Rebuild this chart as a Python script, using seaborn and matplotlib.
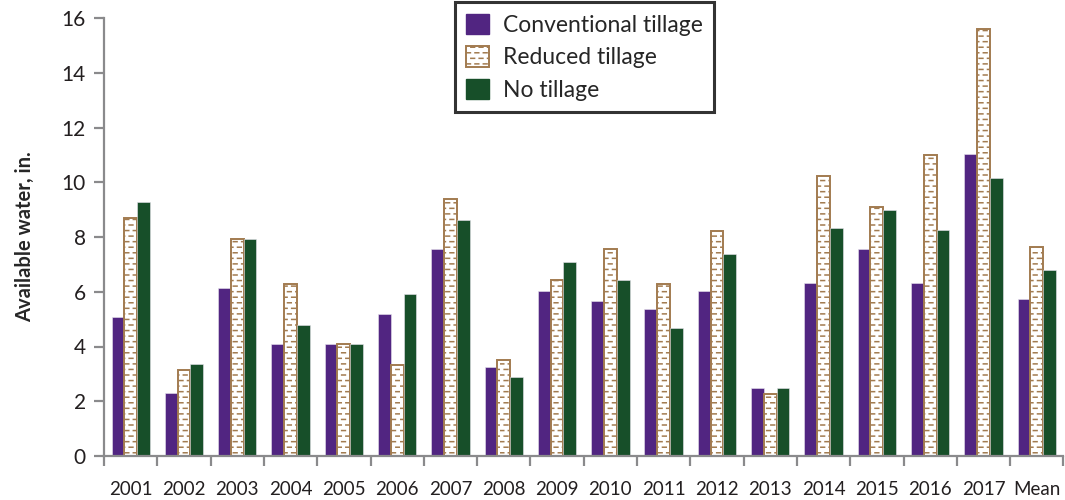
import numpy as np
import pandas as pd
import seaborn as sns
import matplotlib.pyplot as plt
import matplotlib.hatch as mhatch
from matplotlib.patches import Patch
from matplotlib.path import Path

# Data (inches of available water)
YEARS = ["2001", "2002", "2003", "2004", "2005", "2006", "2007", "2008", "2009",
         "2010", "2011", "2012", "2013", "2014", "2015", "2016", "2017", "Mean"]
CONVENTIONAL = [5.08, 2.29, 6.12, 4.10, 4.08, 5.17, 7.56, 3.25, 6.03,
                5.65, 5.37, 6.03, 2.48, 6.31, 7.57, 6.32, 11.02, 5.74]
REDUCED = [8.70, 3.14, 7.94, 6.30, 4.08, 3.34, 9.37, 3.52, 6.42,
           7.55, 6.30, 8.22, 2.27, 10.22, 9.10, 11.00, 15.60, 7.65]
NO_TILL = [9.29, 3.35, 7.94, 4.78, 4.08, 5.93, 8.62, 2.87, 7.08,
           6.42, 4.68, 7.37, 2.48, 8.33, 9.00, 8.24, 10.14, 6.81]
SERIES = ["Conventional tillage", "Reduced tillage", "No tillage"]

PURPLE = "#512581"
GREEN = "#174f29"
BROWN = "#a27b50"
DASH = "#a5682e"
AXIS_GRAY = "#8a8a8c"


# Staggered short-dash hatch (replaces the plain '-' pattern)
class DashHatch(mhatch.HatchPatternBase):
    def __init__(self, hatch, density):
        self.rows = int(hatch.count('-') * density)
        self.cols = int(self.rows * 2 / 3)
        self.num_vertices = self.rows * self.cols * 2

    def set_vertices_and_codes(self, vertices, codes):
        k = 0
        for i in range(self.rows):
            y = (i + 0.5) / self.rows
            shift = 0.5 * (i % 2)
            for j in range(self.cols):
                x0 = (j + shift) / self.cols
                vertices[k] = (x0, y)
                vertices[k + 1] = (x0 + 0.45 / self.cols, y)
                codes[k] = Path.MOVETO
                codes[k + 1] = Path.LINETO
                k += 2


mhatch._hatch_types = [DashHatch if t is mhatch.HorizontalHatch else t
                       for t in mhatch._hatch_types]

sns.set_style("white")
plt.rcParams['font.family'] = ['Lato', 'DejaVu Sans']
plt.rcParams['hatch.linewidth'] = 1.1
plt.rcParams['hatch.color'] = DASH

df = pd.DataFrame({
    "year": YEARS * 3,
    "value": CONVENTIONAL + REDUCED + NO_TILL,
    "series": [s for s in SERIES for _ in YEARS],
})

fig = plt.figure(figsize=(10.65, 5.0), dpi=100)
ax = fig.add_axes([0.0977, 0.088, 0.9008, 0.876])

sns.barplot(data=df, x="year", y="value", hue="series", hue_order=SERIES,
            palette=[PURPLE, "white", GREEN], width=0.72, gap=0,
            saturation=1, legend=False, ax=ax)

# style each series
for cont, name in zip(ax.containers, SERIES):
    for bar in cont:
        if name == "Reduced tillage":
            bar.set_facecolor("white")
            bar.set_edgecolor(BROWN)
            bar.set_linewidth(1.4)
            bar.set_hatch("---")
        else:
            bar.set_edgecolor("#e8e4ee")
            bar.set_linewidth(0.4)

ax.set_ylim(0, 16)
ax.set_xlim(-0.5, len(YEARS) - 0.5)
ax.set_yticks(np.arange(0, 17, 2))
ax.set_xlabel("")
ax.set_ylabel("Available water, in.", fontsize=14.5, fontweight="bold", labelpad=19)

for side in ["top", "right"]:
    ax.spines[side].set_visible(False)
for side in ["left", "bottom"]:
    ax.spines[side].set_color(AXIS_GRAY)
    ax.spines[side].set_linewidth(1.6)

ax.tick_params(axis="y", which="major", left=True, length=7, width=1.6,
               color=AXIS_GRAY, labelsize=15, pad=6, labelcolor="#231f20")
ax.set_xticks(np.arange(-0.5, len(YEARS)), minor=True)
ax.tick_params(axis="x", which="minor", bottom=True, length=7, width=1.6,
               color=AXIS_GRAY)
ax.tick_params(axis="x", which="major", bottom=False, length=0, labelsize=13.5,
               pad=18, labelcolor="#231f20")

handles = [
    Patch(facecolor=PURPLE, edgecolor=PURPLE),
    Patch(facecolor="white", edgecolor=BROWN, hatch="---", linewidth=1.4),
    Patch(facecolor=GREEN, edgecolor=GREEN),
]
leg = ax.legend(handles, SERIES, loc="upper center", bbox_to_anchor=(0.501, 1.036),
                fontsize=16.5, frameon=True, fancybox=False, handlelength=1.0,
                handleheight=1.0, handletextpad=0.6, labelspacing=0.45,
                borderpad=0.5, borderaxespad=0)
leg.get_frame().set_edgecolor("black")
leg.get_frame().set_linewidth(2.2)

fig.savefig("out.png", dpi=100)
